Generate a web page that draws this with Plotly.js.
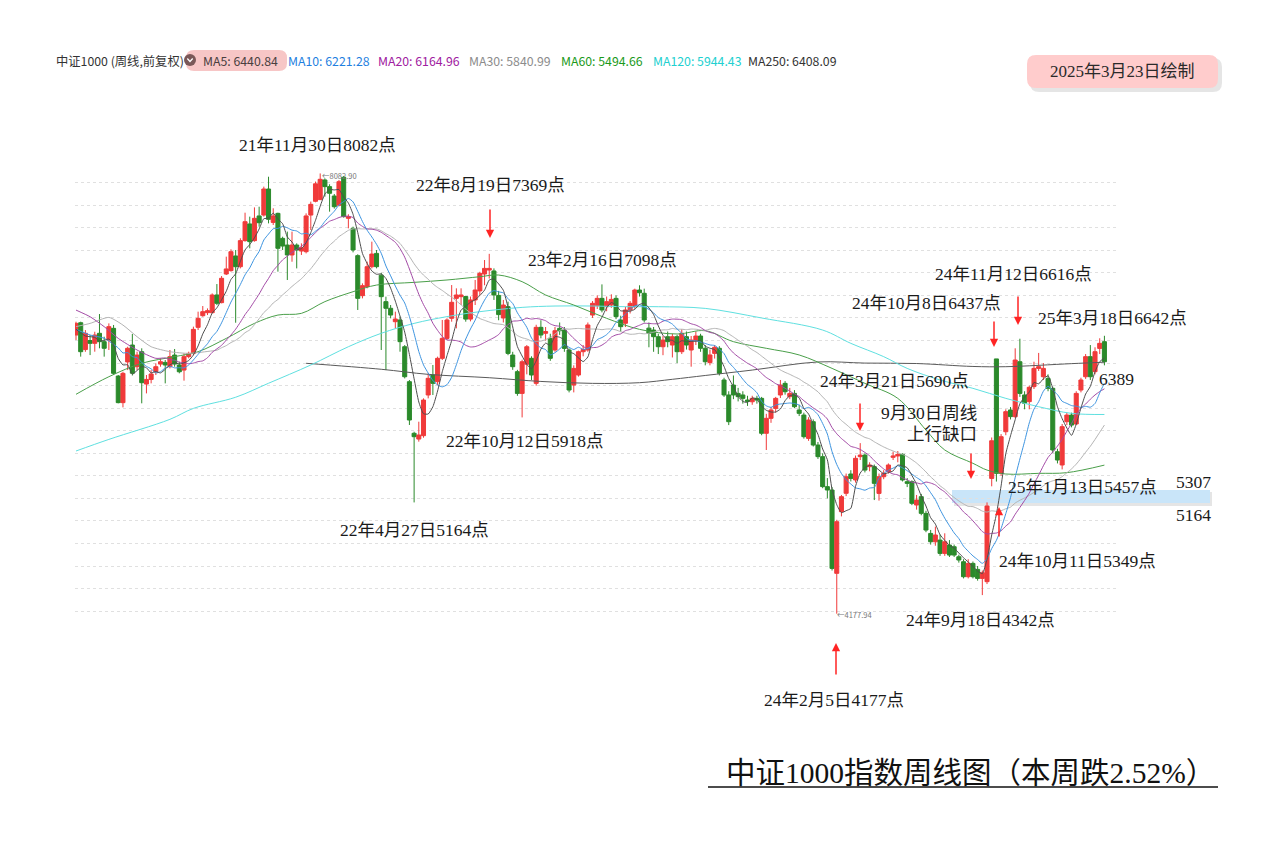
<!DOCTYPE html>
<html><head><meta charset="utf-8">
<script src="https://cdn.plot.ly/plotly-3.0.1.min.js"></script>
<style>html,body{margin:0;padding:0;background:#fff}#chart{width:1273px;height:844px}</style>
</head><body><div id="chart"></div>
<script>
// Weekly OHLC of CSI 1000, week 0 = 2020-11-30 ... week 219 = 2025-03-17
const opens = [
6649,6758,6520,6600,6575,6664,6590,6604,6708,6285,
6049,6410,6560,6368,6501,6214,6255,6323,6391,6406,
6368,6471,6383,6338,6457,6486,6717,6820,6847,6847,
7004,6936,7190,7220,7350,7255,7486,7634,7486,7705,
7713,7944,7648,7728,7506,7447,7359,7447,7394,7388,
7713,7835,7850,8024,7965,7882,7800,8048,7684,7595,
7353,6998,7078,7255,7373,7180,6945,6886,6767,6782,
6545,6235,5777,5726,5756,6117,6294,6235,6442,6619,
6797,6974,6989,6990,6790,6960,7040,7190,7225,7217,
7000,6800,6900,6471,6324,6131,6390,6442,6220,6717,
6664,6620,6516,6708,6693,6516,6205,6294,6501,6516,
6826,6909,6974,6900,6915,6974,6782,6753,6871,6900,
7048,7019,6710,6693,6634,6545,6634,6560,6634,6501,
6634,6516,6604,6640,6531,6404,6486,6531,6250,6117,
6205,6131,6117,6072,6057,6087,6087,5777,5910,5998,
6117,6220,6102,6131,5984,5939,5732,5880,5673,5570,
5304,5274,4535,5082,5245,5416,5363,5570,5584,5481,
5481,5244,5392,5437,5564,5576,5590,5348,5348,5141,
5215,5067,4889,4815,4830,4712,4786,4771,4682,4638,
4505,4623,4570,4490,4461,5377,6437,5422,5791,5984,
5925,6412,6117,6058,6191,6353,6279,6264,6176,5614,
5496,5880,5939,5860,6161,6279,6457,6324,6530,6590];
const highs = [
6767,6767,6693,6649,6678,6835,6634,6752,6738,6294,
6323,6545,6658,6501,6531,6294,6338,6397,6442,6427,
6516,6525,6412,6486,6501,6723,6856,6906,6885,7018,
7101,7172,7344,7409,7403,7507,7734,7699,7781,7787,
7965,8053,7773,7734,7521,7566,7566,7462,7462,7728,
7832,8010,8082,8039,7986,7900,8024,8060,7720,7610,
7365,7107,7300,7477,7403,7200,6989,6915,6856,6812,
6560,6250,5791,5880,6087,6309,6383,6457,6782,6797,
7092,7063,7063,6995,6990,7137,7210,7314,7369,7240,
7040,6960,6945,6500,6340,6430,6560,6460,6740,6780,
6720,6660,6720,6760,6720,6530,6380,6510,6560,6760,
6950,7000,7098,6990,7010,7000,6820,6900,6950,7060,
7090,7060,6760,6720,6660,6640,6680,6660,6650,6700,
6680,6640,6680,6660,6560,6520,6560,6550,6270,6150,
6290,6180,6150,6110,6110,6110,6100,5950,6010,6100,
6250,6240,6180,6160,6030,5960,5920,5900,5700,5600,
5380,5300,5010,5230,5420,5450,5580,5690,5600,5520,
5500,5420,5450,5510,5614,5620,5600,5380,5360,5230,
5240,5090,4920,4950,4880,4890,4830,4790,4700,4660,
4660,4640,4600,4560,5164,5740,6437,5770,5990,6010,
6531,6616,6150,6200,6412,6490,6400,6300,6190,5640,
5860,5960,5960,6150,6270,6480,6560,6540,6620,6642];
const lows = [
6605,6457,6500,6471,6501,6531,6457,6516,6294,6043,
6007,6338,6290,6338,6043,6131,6220,6294,6368,6220,
6353,6368,6309,6244,6442,6471,6693,6811,6826,6841,
6915,6930,7181,7211,6758,7240,7477,7418,7477,7610,
7699,7639,7625,7211,7403,7137,7299,7240,7359,7373,
7580,7826,7846,7876,7743,7770,7790,7690,7595,7382,
6871,6974,7063,7240,7240,6516,6338,6797,6708,6501,
6264,5851,5164,5703,5738,6087,6117,6205,6427,6605,
6767,6708,6915,6767,6770,6915,7000,7090,7150,6960,
6780,6760,6470,6340,6110,5918,6300,6250,6200,6620,
6600,6420,6500,6650,6500,6140,6140,6280,6460,6500,
6800,6880,6850,6860,6890,6790,6680,6720,6840,6880,
6990,6760,6540,6500,6480,6470,6540,6450,6400,6480,
6520,6368,6560,6500,6380,6380,6440,6290,6100,5850,
6080,6060,6040,6020,6030,6040,5760,5629,5870,5960,
6090,6120,6080,6000,5930,5730,5710,5660,5550,5290,
5200,4560,4177,5040,5220,5350,5340,5540,5430,5440,
5185,5180,5370,5420,5540,5520,5350,5300,5140,5100,
5050,4900,4790,4780,4690,4690,4680,4680,4630,4490,
4490,4490,4470,4342,4440,5307,5349,5400,5760,5900,
5910,6100,5990,5990,6170,6330,6250,6150,5600,5510,
5457,5850,5830,5850,6140,6260,6250,6300,6480,6380];
const closes = [
6752,6501,6664,6575,6649,6590,6531,6723,6309,6049,
6309,6531,6310,6471,6226,6255,6303,6368,6412,6383,
6457,6391,6323,6457,6486,6699,6797,6856,6865,7004,
6930,7152,7235,7388,7255,7486,7654,7477,7684,7645,
7944,7675,7705,7418,7438,7359,7447,7403,7424,7705,
7808,7990,8030,7965,7906,7787,8009,7699,7699,7403,
6974,7087,7255,7367,7255,6989,6886,6826,6791,6590,
6279,5895,5747,5762,6072,6265,6220,6442,6619,6782,
6939,7004,7004,6790,6960,7048,7196,7240,7240,7004,
6830,6915,6486,6368,6131,6412,6545,6294,6717,6649,
6680,6442,6687,6687,6530,6161,6353,6501,6520,6738,
6930,6974,6871,6945,6965,6812,6723,6871,6930,7048,
7024,6782,6664,6634,6545,6604,6590,6634,6501,6664,
6560,6604,6640,6531,6412,6472,6540,6309,6117,5880,
6117,6102,6087,6060,6087,6072,5777,5910,5984,6087,
6205,6146,6131,6013,5954,5747,5895,5673,5570,5304,
5274,4579,4993,5215,5392,5377,5555,5584,5451,5496,
5333,5392,5422,5496,5576,5590,5363,5333,5156,5185,
5067,4919,4815,4875,4712,4815,4697,4697,4653,4505,
4623,4505,4490,4540,5132,5711,5422,5747,5969,5925,
6427,6131,6043,6185,6353,6368,6353,6176,5629,5540,
5836,5939,5850,6131,6250,6457,6279,6501,6575,6412];

const ma5HeadAt = [0, 2];            const ma5Head = [6700, 6640];
const ma10HeadAt = [0, 3, 6];        const ma10Head = [6699, 6649, 6620];
const ma20HeadAt = [0, 3, 6, 9, 13, 17]; const ma20Head = [6870, 6811, 6723, 6619, 6516, 6442];
const ma30HeadAt = [0, 3, 7, 10, 13, 16, 20, 24]; const ma30Head = [6723, 6752, 6805, 6737, 6634, 6545, 6501, 6486];
// Long averages (week index, value)
const ma60At = [0,7,14,21,26,32,38,43,48,53,59,64,72,79,86,90,95,100,106,113,120,128,134,140,147,154,161,168,175,181,185,191,194,198,205,211,219];
const ma60 = [6123,6279,6398,6457,6501,6619,6752,6826,6841,6945,7033,7092,7116,7137,7166,7181,7122,7004,6915,6797,6699,6658,6687,6590,6531,6472,6353,6220,6087,5806,5629,5511,5451,5416,5422,5428,5495];
const ma120At = [0,7,20,25,34,41,50,58,65,72,79,86,95,102,110,117,124,134,146,159,165,172,177,184,191,198,205,212,219];
const ma120 = [5620,5723,5901,5998,6097,6221,6383,6545,6664,6752,6812,6856,6894,6906,6906,6900,6900,6885,6800,6693,6575,6457,6353,6250,6176,6087,6013,5954,5944];
const ma250At = [49,65,75,88,99,110,120,127,134,144,158,168,179,191,198,212,219];
const ma250 = [6398,6345,6300,6270,6237,6220,6226,6256,6290,6338,6410,6400,6396,6370,6368,6395,6408];

const legendItems = [
  ['中证1000 (周线,前复权)', '#333333'],
  ['MA5: 6440.84', '#4a4040'],
  ['MA10: 6221.28', '#1f7fe0'],
  ['MA20: 6164.96', '#a020a0'],
  ['MA30: 5840.99', '#8c8c8c'],
  ['MA60: 5494.66', '#1b9a1b'],
  ['MA120: 5944.43', '#22d0d0'],
  ['MA250: 6408.09', '#333333']
];
const notes = [
  '21年11月30日8082点','22年8月19日7369点','23年2月16日7098点','22年10月12日5918点',
  '22年4月27日5164点','24年11月12日6616点','24年10月8日6437点','25年3月18日6642点',
  '24年3月21日5690点','25年1月13日5457点','24年10月11日5349点','24年9月18日4342点','24年2月5日4177点'
];
const gapNotes = ['9月30日周线', '上行缺口'];
const levelNotes = ['6389', '5307', '5164'];
const titleText = '中证1000指数周线图（本周跌2.52%）';
const dateText = '2025年3月23日绘制';

const weeks = closes.map((_, i) => i);
function movingAverage(n, headAt, headVals) {
  const xs = headAt.slice(), ys = headVals.slice();
  for (let i = n - 1; i < closes.length; i++) {
    let s = 0; for (let k = i - n + 1; k <= i; k++) s += closes[k];
    xs.push(i); ys.push(s / n);
  }
  return {x: xs, y: ys};
}

// pixel -> paper helpers for the plot area (75..1117 x 100..700)
const PL = 75, PW = 1042, PT = 100, PH = 600;
const px = v => (v - PL) / PW;
const py = v => (PT + PH - v) / PH;
function roundRect(x0, y0, x1, y1, r) {
  const X = px, Y = py;
  return `M${X(x0+r)},${Y(y0)} L${X(x1-r)},${Y(y0)} Q${X(x1)},${Y(y0)} ${X(x1)},${Y(y0+r)} ` +
         `L${X(x1)},${Y(y1-r)} Q${X(x1)},${Y(y1)} ${X(x1-r)},${Y(y1)} L${X(x0+r)},${Y(y1)} ` +
         `Q${X(x0)},${Y(y1)} ${X(x0)},${Y(y1-r)} L${X(x0)},${Y(y0+r)} Q${X(x0)},${Y(y0)} ${X(x0+r)},${Y(y0)} Z`;
}

const traces = [{
  type: 'candlestick', x: weeks, open: opens, high: highs, low: lows, close: closes,
  increasing: {line: {color: '#f03a3a', width: 1}, fillcolor: '#f03a3a'},
  decreasing: {line: {color: '#2b8a2b', width: 1}, fillcolor: '#2b8a2b'},
  whiskerwidth: 0, hoverinfo: 'skip', showlegend: false
}];
function addLine(d, color, smooth) {
  traces.push({type: 'scatter', mode: 'lines', x: d.x, y: d.y, hoverinfo: 'skip', showlegend: false,
    line: {color: color, width: 1, shape: 'spline', smoothing: smooth}});
}
addLine({x: ma250At, y: ma250}, '#5a5a5a', 1.0);
addLine({x: ma120At, y: ma120}, '#5fe0e0', 1.0);
addLine({x: ma60At, y: ma60}, '#4a9f4a', 1.0);
addLine(movingAverage(30, ma30HeadAt, ma30Head), '#b3b3b3', 0.6);
addLine(movingAverage(20, ma20HeadAt, ma20Head), '#a34aa6', 0.6);
addLine(movingAverage(10, ma10HeadAt, ma10Head), '#3d94e0', 0.6);
addLine(movingAverage(5, ma5HeadAt, ma5Head), '#4d4d4d', 0.5);

const serif = 'Liberation Serif, "Noto Sans CJK SC", serif';
const sans = '"Noto Sans CJK SC", "Noto Sans", sans-serif';
const annotations = [];
function label(text, x, y, anchor, size, color, family) {
  annotations.push({xref: 'paper', yref: 'paper', x: px(x), y: py(y), text: text, showarrow: false,
    xanchor: anchor || 'center', yanchor: 'middle', font: {family: family || serif, size: size || 17.5, color: color || '#1a1a1a'}});
}
const notePos = [[317,145],[490,185],[602,260],[525,441],[414,530],[1013,274],[926,303],[1112,318],[894,381],[1082,487],[1077,561],[980,620],[834,700]];
notes.forEach((t, k) => label(t, notePos[k][0], notePos[k][1]));
label(gapNotes[0], 979, 413, 'right');
label(gapNotes[1], 979, 434, 'right');
label(levelNotes[0], 1097, 379, 'left');
label(levelNotes[1], 1174, 482, 'left');
label(levelNotes[2], 1174, 515, 'left');
label('←8082.90', 320, 175, 'left', 7.5, '#777', sans);
label('←4177.94', 835, 614, 'left', 7.5, '#777', sans);
label(titleText, 970, 773, 'center', 29.5, '#111', serif);
label(dateText, 1122, 71, 'center', 17, '#2a2a2a', serif);
const legendX = [54, 201, 286, 376, 467, 559, 651, 746];
legendItems.forEach((it, k) => label(it[0], legendX[k], 61, 'left', 12.3, it[1], sans));

function arrow(x, y, dy) {
  annotations.push({xref: 'paper', yref: 'paper', x: px(x), y: py(y), text: '', showarrow: true,
    ax: 0, ay: dy, arrowhead: 2, arrowsize: 1.1, arrowwidth: 1.5, arrowcolor: '#ff2424'});
}
arrow(490, 238, -30);
arrow(860, 431, -29);
arrow(971, 479, -27);
arrow(994, 347, -27);
arrow(1018, 325, -30);
arrow(999, 507, 31);
arrow(836, 643, 33);

const gridVals = [];
for (let v = 4200; v <= 8000; v += 200) gridVals.push(v);

const shapes = [
  {type: 'path', xref: 'paper', yref: 'paper', path: roundRect(1030, 58, 1222, 92, 9), fillcolor: 'rgba(0,0,0,0.10)', line: {width: 0}, layer: 'below'},
  {type: 'path', xref: 'paper', yref: 'paper', path: roundRect(1027, 55, 1218, 88, 9), fillcolor: '#ffcccc', line: {width: 0}, layer: 'below'},
  {type: 'path', xref: 'paper', yref: 'paper', path: roundRect(186, 50, 287, 71, 8), fillcolor: '#f7c6c6', line: {width: 0}, layer: 'below'},
  {type: 'circle', xref: 'paper', yref: 'paper', x0: px(184), x1: px(196), y0: py(66), y1: py(54), fillcolor: '#7a5858', line: {width: 0}},
  {type: 'path', xref: 'paper', yref: 'paper', path: `M${px(187.3)},${py(58.5)} L${px(190)},${py(61.5)} L${px(192.7)},${py(58.5)}`, line: {color: '#ffffff', width: 1.3}},
  {type: 'rect', xref: 'paper', yref: 'paper', x0: px(954), x1: px(1212), y0: py(506), y1: py(492), fillcolor: 'rgba(0,0,0,0.10)', line: {width: 0}, layer: 'below'},
  {type: 'rect', xref: 'paper', yref: 'paper', x0: px(952), x1: px(1210), y0: py(503), y1: py(490), fillcolor: '#c9e5f9', line: {width: 0}, layer: 'below'},
  {type: 'line', xref: 'paper', yref: 'paper', x0: px(708), x1: px(1218), y0: py(787), y1: py(787), line: {color: '#111', width: 1.5}}
];

const layout = {
  width: 1273, height: 844,
  margin: {l: 75, r: 156, t: 100, b: 144},
  paper_bgcolor: '#ffffff', plot_bgcolor: 'rgba(0,0,0,0)',
  showlegend: false, boxgap: 0.14, boxgroupgap: 0,
  xaxis: {range: [-0.213, 221.68], showgrid: false, zeroline: false, showticklabels: false, ticks: '',
          showline: false, rangeslider: {visible: false}, fixedrange: true},
  yaxis: {range: [3411.5, 8733.5], tickvals: gridVals, showticklabels: false, ticks: '',
          gridcolor: '#e0e0e0', griddash: 'dot', gridwidth: 1, zeroline: false, showline: false, fixedrange: true},
  annotations: annotations, shapes: shapes
};
Plotly.newPlot('chart', traces, layout, {displayModeBar: false, staticPlot: true});
</script></body></html>
